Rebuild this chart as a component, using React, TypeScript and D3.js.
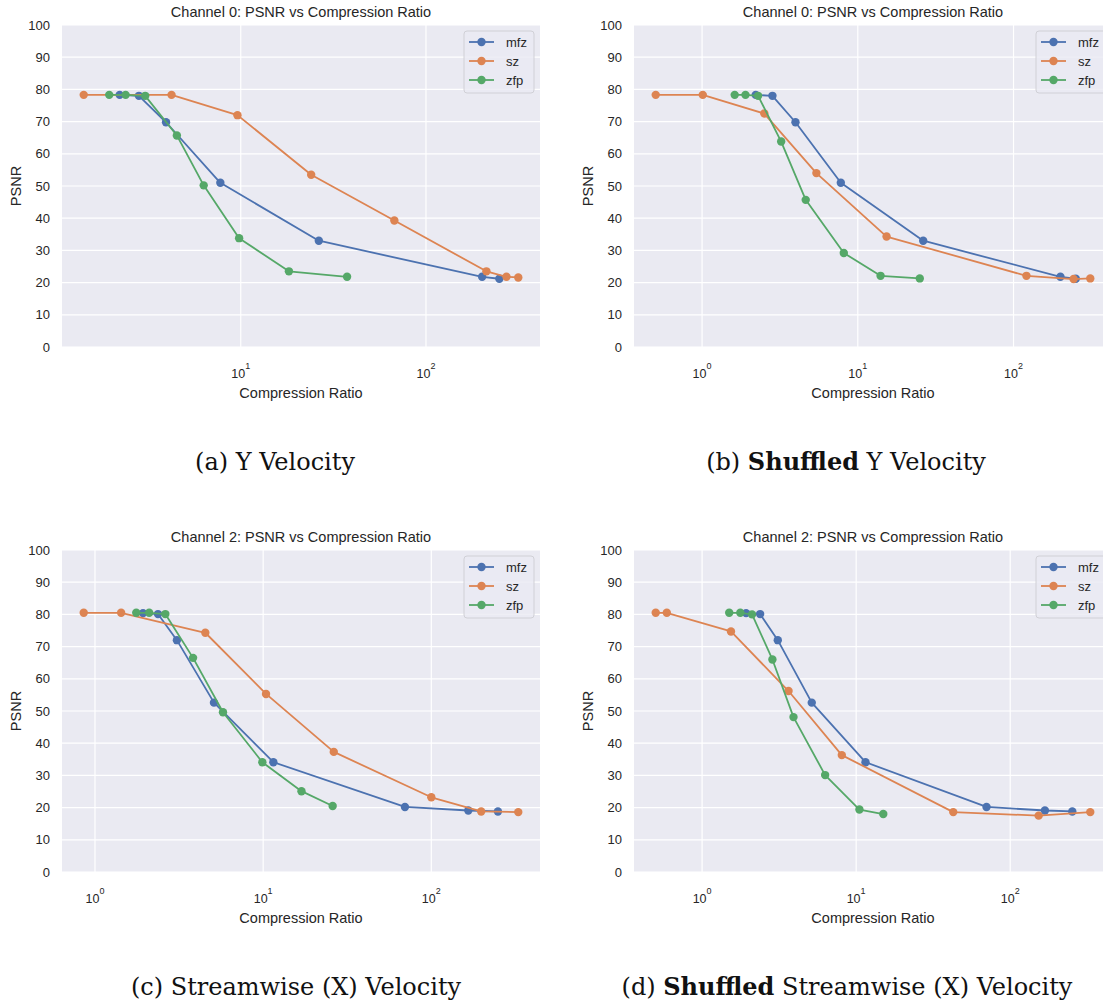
import React from "react";
import * as d3 from "d3";

// ---------- data ----------
const seriesNames = ["mfz", "sz", "zfp"];
const seriesColors = ["#4c72b0", "#dd8452", "#55a868"];
const yTicks = [0, 10, 20, 30, 40, 50, 60, 70, 80, 90, 100];

// (a) Channel 0
const aMfzCR = [2.22, 2.82, 3.95, 7.76, 26.4, 201, 249];
const aMfzPSNR = [78.3, 78.0, 69.8, 51.0, 33.0, 21.8, 21.2];
const aSzCR = [1.42, 4.23, 9.6, 24.0, 67.5, 212, 272, 315];
const aSzPSNR = [78.3, 78.3, 72.0, 53.5, 39.3, 23.5, 21.8, 21.6];
const aZfpCR = [1.95, 2.39, 3.05, 4.52, 6.31, 9.8, 18.2, 37.5];
const aZfpPSNR = [78.3, 78.3, 78.0, 65.7, 50.2, 33.8, 23.5, 21.8];

// (b) Channel 0 shuffled
const bMfzCR = [2.21, 2.83, 3.98, 7.78, 26.3, 200, 251];
const bMfzPSNR = [78.3, 78.0, 69.8, 51.0, 33.0, 21.8, 21.2];
const bSzCR = [0.504, 1.01, 2.51, 5.42, 15.3, 121, 243, 311];
const bSzPSNR = [78.3, 78.3, 72.5, 54.0, 34.3, 22.1, 21.1, 21.3];
const bZfpCR = [1.62, 1.9, 2.29, 3.22, 4.63, 8.13, 14.0, 25.0];
const bZfpPSNR = [78.3, 78.3, 78.0, 63.8, 45.7, 29.2, 22.1, 21.3];

// (c) Channel 2
const cMfzCR = [1.93, 2.37, 3.07, 5.1, 11.5, 69.7, 166, 249];
const cMfzPSNR = [80.4, 80.1, 72.0, 52.6, 34.1, 20.2, 19.1, 18.8];
const cSzCR = [0.857, 1.43, 4.53, 10.4, 26.3, 100, 198, 329];
const cSzPSNR = [80.5, 80.5, 74.3, 55.3, 37.3, 23.2, 18.8, 18.6];
const cZfpCR = [1.76, 2.1, 2.62, 3.83, 5.77, 9.89, 16.9, 25.9];
const cZfpPSNR = [80.5, 80.5, 80.1, 66.5, 49.6, 34.1, 25.1, 20.5];

// (d) Channel 2 shuffled
const dMfzCR = [1.93, 2.38, 3.1, 5.15, 11.5, 70.2, 168, 253];
const dMfzPSNR = [80.4, 80.1, 72.0, 52.6, 34.1, 20.2, 19.1, 18.8];
const dSzCR = [0.5, 0.59, 1.54, 3.64, 8.07, 42.7, 153, 331];
const dSzPSNR = [80.5, 80.5, 74.7, 56.2, 36.3, 18.6, 17.5, 18.6];
const dZfpCR = [1.5, 1.77, 2.11, 2.86, 3.92, 6.29, 10.5, 15.0];
const dZfpPSNR = [80.5, 80.5, 80.0, 66.0, 48.1, 30.1, 19.4, 18.0];

const titles = [
  "Channel 0: PSNR vs Compression Ratio",
  "Channel 0: PSNR vs Compression Ratio",
  "Channel 2: PSNR vs Compression Ratio",
  "Channel 2: PSNR vs Compression Ratio",
];
const captions = [
  [["(a) ", false], ["Y Velocity", false]],
  [["(b) ", false], ["Shuffled", true], [" Y Velocity", false]],
  [["(c) ", false], ["Streamwise (X) Velocity", false]],
  [["(d) ", false], ["Shuffled", true], [" Streamwise (X) Velocity", false]],
] as [string, boolean][][];

const panelData = [
  [[aMfzCR, aMfzPSNR], [aSzCR, aSzPSNR], [aZfpCR, aZfpPSNR]],
  [[bMfzCR, bMfzPSNR], [bSzCR, bSzPSNR], [bZfpCR, bZfpPSNR]],
  [[cMfzCR, cMfzPSNR], [cSzCR, cSzPSNR], [cZfpCR, cZfpPSNR]],
  [[dMfzCR, dMfzPSNR], [dSzCR, dSzPSNR], [dZfpCR, dZfpPSNR]],
];

// ---------- layout ----------
const W = 1103;
const H = 1004;
const PW = 478;
const PH = 322;
const panelPos = [
  { x: 62, y: 25, capX: 275, capY: 470 },
  { x: 634, y: 25, capX: 846, capY: 470 },
  { x: 62, y: 550, capX: 296, capY: 995 },
  { x: 634, y: 550, capX: 847, capY: 995 },
];
const SANS = "'Liberation Sans', Arial, Helvetica, sans-serif";
const SERIF = "'DejaVu Serif', serif";
const TXT = "#262626";
const BG = "#eaeaf2";

function Panel({ idx }: { idx: number }) {
  const pos = panelPos[idx];
  const data = panelData[idx];
  const allX = data.flatMap((s) => s[0]);
  const lo = Math.log10(d3.min(allX) as number);
  const hi = Math.log10(d3.max(allX) as number);
  const pad = 0.05 * (hi - lo);
  const x = d3
    .scaleLog()
    .domain([Math.pow(10, lo - pad), Math.pow(10, hi + pad)])
    .range([0, PW]);
  const y = d3.scaleLinear().domain([0, 100]).range([PH, 0]);
  const decades: number[] = [];
  for (let e = Math.ceil(lo - pad); e <= Math.floor(hi + pad); e++) decades.push(e);
  const line = d3
    .line<[number, number]>()
    .x((d) => x(d[0]))
    .y((d) => y(d[1]));
  const clipId = `clip${idx}`;

  return (
    <g transform={`translate(${pos.x},${pos.y})`}>
      <defs>
        <clipPath id={clipId}>
          <rect x={-6} y={-6} width={PW + 12} height={PH + 12} />
        </clipPath>
      </defs>
      <rect x={0} y={0} width={PW} height={PH} fill={BG} />
      {yTicks.map((t) => (
        <line key={"gy" + t} x1={0} x2={PW} y1={y(t)} y2={y(t)} stroke="#fff" strokeWidth={1.2} />
      ))}
      {decades.map((e) => (
        <line key={"gx" + e} x1={x(Math.pow(10, e))} x2={x(Math.pow(10, e))} y1={0} y2={PH} stroke="#fff" strokeWidth={1.2} />
      ))}
      {yTicks.map((t) => (
        <text key={"ty" + t} x={-12} y={y(t)} textAnchor="end" dominantBaseline="central" fontFamily={SANS} fontSize={13} fill={TXT}>
          {t}
        </text>
      ))}
      {decades.map((e) => (
        <text key={"tx" + e} x={x(Math.pow(10, e))} y={PH + 30.5} textAnchor="middle" fontFamily={SANS} fontSize={12.5} fill={TXT}>
          10
          <tspan dy={-9} fontSize={9}>
            {e}
          </tspan>
        </text>
      ))}
      <text x={PW / 2} y={PH + 51} textAnchor="middle" fontFamily={SANS} fontSize={14.5} fill={TXT}>
        Compression Ratio
      </text>
      <text transform={`translate(${-41},${PH / 2}) rotate(-90)`} textAnchor="middle" fontFamily={SANS} fontSize={14.5} fill={TXT}>
        PSNR
      </text>
      <text x={PW / 2} y={-8} textAnchor="middle" fontFamily={SANS} fontSize={14.5} fill={TXT}>
        {titles[idx]}
      </text>
      <g clipPath={`url(#${clipId})`}>
        {data.map((s, si) => {
          const pts = s[0].map((cr, i) => [cr, s[1][i]] as [number, number]);
          return (
            <g key={"s" + si}>
              <path d={line(pts) as string} fill="none" stroke={seriesColors[si]} strokeWidth={1.8} strokeLinejoin="round" />
              {pts.map((p, i) => (
                <circle key={i} cx={x(p[0])} cy={y(p[1])} r={4.2} fill={seriesColors[si]} />
              ))}
            </g>
          );
        })}
      </g>
      <g transform={`translate(${PW - 76},6)`}>
        <rect x={0} y={0} width={70} height={62} rx={3} fill={BG} fillOpacity={0.8} stroke="#d0d0d6" strokeWidth={1} />
        {seriesNames.map((n, i) => (
          <g key={n} transform={`translate(0,${11 + i * 19})`}>
            <line x1={5} x2={30} y1={0} y2={0} stroke={seriesColors[i]} strokeWidth={1.8} />
            <circle cx={17.5} cy={0} r={4.2} fill={seriesColors[i]} />
            <text x={42} y={0} dominantBaseline="central" fontFamily={SANS} fontSize={13} fill={TXT}>
              {n}
            </text>
          </g>
        ))}
      </g>
    </g>
  );
}

export default function App() {
  return (
    <svg width={W} height={H} style={{ position: "absolute", left: 0, top: 0, background: "#fff" }}>
      <rect x={0} y={0} width={W} height={H} fill="#fff" />
      {[0, 1, 2, 3].map((i) => (
        <Panel key={i} idx={i} />
      ))}
      {captions.map((parts, i) => (
        <text key={"cap" + i} x={panelPos[i].capX} y={panelPos[i].capY} textAnchor="middle" fontFamily={SERIF} fontSize={24} fill="#111">
          {parts.map((p, j) => (
            <tspan key={j} fontWeight={p[1] ? "bold" : "normal"}>
              {p[0]}
            </tspan>
          ))}
        </text>
      ))}
    </svg>
  );
}
